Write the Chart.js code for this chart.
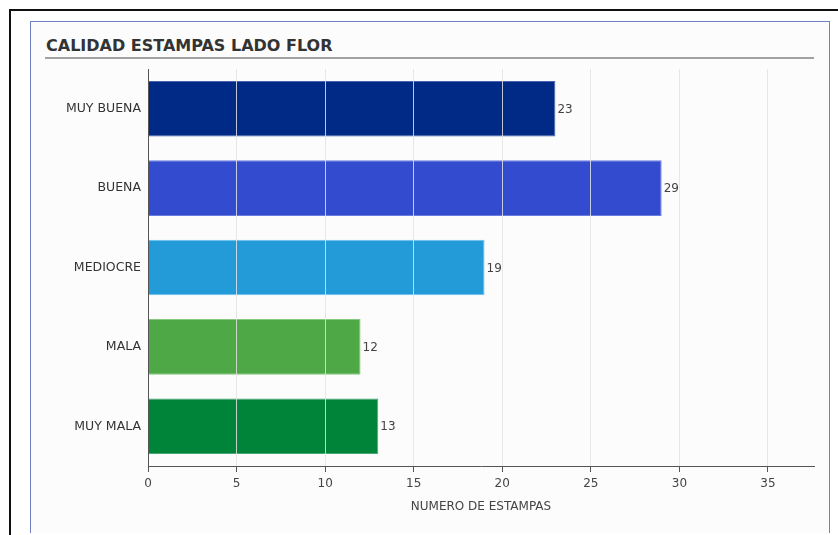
<!DOCTYPE html>
<html>
<head>
<meta charset="utf-8">
<script src="https://cdn.jsdelivr.net/npm/chart.js@4"></script>
<style>
  html, body { margin: 0; padding: 0; background: #fff; }
  body { width: 838px; height: 535px; position: relative; overflow: hidden; font-family: "DejaVu Sans", sans-serif; }
  #frameTop { position: absolute; left: 9px; top: 9px; width: 829px; height: 2px; background: #111; }
  #frameLeft { position: absolute; left: 9px; top: 9px; width: 2px; height: 526px; background: #111; }
  #panel { position: absolute; left: 30px; top: 21px; width: 798px; height: 511px; border: 1px solid #7480c6; border-bottom: none; background: #fcfcfc; }
  #title { position: absolute; left: 45px; top: 37px; width: 769px; height: 22px; border-bottom: 2px solid #a2a2a2;
           font-weight: bold; font-size: 16px; color: #333; padding-left: 1px; box-sizing: border-box; line-height: 18px; }
  #chart { position: absolute; left: 0; top: 0; }
</style>
</head>
<body>
<div id="frameTop"></div>
<div id="frameLeft"></div>
<div id="panel"></div>
<div id="title">CALIDAD ESTAMPAS LADO FLOR</div>
<canvas id="chart" width="838" height="535"></canvas>
<script>
// Data
const categories = ['MUY BUENA', 'BUENA', 'MEDIOCRE', 'MALA', 'MUY MALA'];
const counts = [23, 29, 19, 12, 13];
const barColors = ['#002a85', '#334bcf', '#229bd8', '#4ea845', '#00843a'];
const barEdges = ['#4a62b0', '#6a7ee0', '#6cc0ea', '#86c87e', '#4aa872'];
const xTicks = [0, 5, 10, 15, 20, 25, 30, 35];
const xMax = 37.6;
const xTitle = 'NUMERO DE ESTAMPAS';

const FONT = '"DejaVu Sans", sans-serif';

// numbers at the end of each bar
const valueLabels = {
  id: 'valueLabels',
  afterDraw(chart) {
    const ctx = chart.ctx;
    const meta = chart.getDatasetMeta(0);
    ctx.save();
    ctx.font = '12px ' + FONT;
    ctx.fillStyle = '#444';
    ctx.textAlign = 'left';
    ctx.textBaseline = 'middle';
    meta.data.forEach((bar, i) => {
      ctx.fillText(String(counts[i]), bar.x + 2, bar.y + 1);
    });
    ctx.restore();
  }
};

const ctx = document.getElementById('chart').getContext('2d');

new Chart(ctx, {
  type: 'bar',
  data: {
    labels: categories,
    datasets: [{
      data: counts,
      backgroundColor: barColors,
      borderColor: barEdges,
      borderWidth: 1,
      barPercentage: 0.7,
      categoryPercentage: 1
    }]
  },
  options: {
    indexAxis: 'y',
    responsive: false,
    animation: false,
    layout: { padding: { top: 69, right: 24, left: 0, bottom: 21 } },
    plugins: {
      legend: { display: false },
      tooltip: { enabled: false }
    },
    scales: {
      x: {
        min: 0,
        max: xMax,
        afterBuildTicks: (scale) => { scale.ticks = xTicks.map(v => ({ value: v })); },
        afterFit: (scale) => { scale.height = 48; },
        grid: {
          z: 1,
          color: (c) => (c.tick && c.tick.value === 0) ? 'rgba(0,0,0,0)' : 'rgba(226,226,226,0.85)',
          lineWidth: 1,
          tickLength: 6,
          tickColor: '#555'
        },
        border: { display: true, color: '#555', width: 1, z: 1 },
        ticks: { color: '#444', font: { family: FONT, size: 12 }, padding: 5 },
        title: { display: true, text: xTitle, color: '#444', font: { family: FONT, size: 12 }, padding: { top: 4, bottom: 0 } }
      },
      y: {
        afterFit: (scale) => { scale.width = 148; },
        grid: { display: false, drawTicks: false },
        border: { display: true, color: '#555', width: 1, z: 2 },
        ticks: { color: '#333', font: { family: FONT, size: 12.5 }, padding: 7 }
      }
    }
  },
  plugins: [valueLabels]
});
</script>
</body>
</html>
